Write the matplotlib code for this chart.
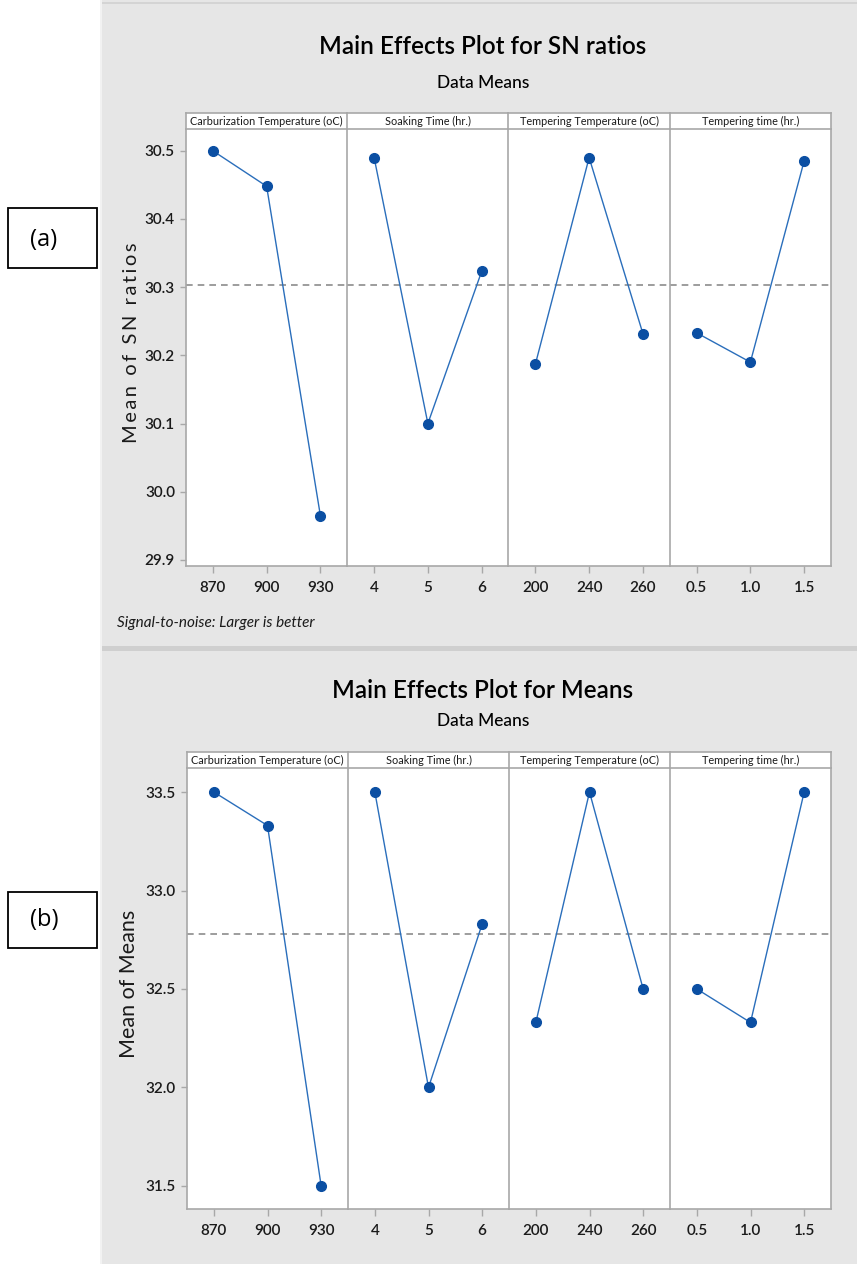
import matplotlib
matplotlib.use('Agg')
from matplotlib import pyplot as plt
from matplotlib.patches import Rectangle

plt.rcParams['font.family'] = ['Lato', 'DejaVu Sans']

factors = ['Carburization Temperature (oC)', 'Soaking Time (hr.)',
           'Tempering Temperature (oC)', 'Tempering time (hr.)']
levels = [['870', '900', '930'], ['4', '5', '6'], ['200', '240', '260'], ['0.5', '1.0', '1.5']]

sn_carb = [30.500, 30.448, 29.965]
sn_soak = [30.490, 30.100, 30.323]
sn_temp = [30.187, 30.490, 30.232]
sn_time = [30.233, 30.190, 30.485]
sn_mean = 30.303
sn_ticks = [29.9, 30.0, 30.1, 30.2, 30.3, 30.4, 30.5]

mn_carb = [33.50, 33.33, 31.50]
mn_soak = [33.50, 32.00, 32.83]
mn_temp = [32.33, 33.50, 32.50]
mn_time = [32.50, 32.33, 33.50]
mn_mean = 32.78
mn_ticks = [31.5, 32.0, 32.5, 33.0, 33.5]

W, H = 857, 1264
fig = plt.figure(figsize=(W / 100, H / 100), dpi=100)
fig.patch.set_facecolor('white')


def box(x0, y0, x1, y1, z=-5, **kw):
    # pixel coords from top-left
    r = Rectangle((x0 / W, 1 - y1 / H), (x1 - x0) / W, (y1 - y0) / H,
                  transform=fig.transFigure, zorder=z, **kw)
    fig.patches.append(r)


def ax_px(x0, y0, x1, y1):
    return fig.add_axes([x0 / W, 1 - y1 / H, (x1 - x0) / W, (y1 - y0) / H])


# gray panels
box(100, 0, 857, 646, facecolor='#e6e6e6', edgecolor='none')
box(100, 651, 857, 1264, facecolor='#e6e6e6', edgecolor='none')
box(100, 646, 857, 651, facecolor='#cfcfcf', edgecolor='none')
box(100, 2, 857, 4, facecolor='#d4d4d4', edgecolor='none')
box(100, 0, 102, 1264, facecolor='#f2f2f2', edgecolor='none')

# (a) (b) label boxes
box(8, 208, 97, 268, facecolor='white', edgecolor='black', linewidth=1.3)
fig.text(44 / W, 1 - 240 / H, '(a)', ha='center', va='center', fontsize=17,
         family=['Open Sans', 'DejaVu Sans'])
box(8, 892, 97, 948, facecolor='white', edgecolor='black', linewidth=1.3)
fig.text(44 / W, 1 - 920 / H, '(b)', ha='center', va='center', fontsize=17,
         family=['Open Sans', 'DejaVu Sans'])

line_c = '#2a6ebb'
mark_c = '#0b4fa3'
frame_c = '#a8a8a8'


def main_effects(series, mean, ticks, ylim, left, right, strip_top, top, bottom,
                 title_y, sub_y, title, ylab, ylab_x, ylab_size):
    fig.text(483 / W, 1 - title_y / H, title, ha='center', va='center', fontsize=17.5,
             fontweight='semibold')
    fig.text(483 / W, 1 - sub_y / H, 'Data Means', ha='center', va='center', fontsize=12.5,
             fontweight='medium')
    pw = (right - left) / 4
    for i in range(4):
        x0 = left + i * pw
        x1 = x0 + pw
        ax = ax_px(x0, top, x1, bottom)
        ax.plot([1, 2, 3], series[i], color=line_c, linewidth=1.0, marker='o',
                markersize=7, markerfacecolor=mark_c, markeredgecolor=mark_c)
        ax.axhline(mean, color='#8c8c8c', linestyle=(0, (4, 3)), linewidth=1.2, zorder=0)
        ax.set_xlim(0.5, 3.5)
        ax.set_ylim(*ylim)
        ax.set_xticks([1, 2, 3])
        ax.set_xticklabels(levels[i], fontweight='semibold')
        ax.set_yticks(ticks)
        ax.set_yticklabels([f'{t:.1f}' for t in ticks], fontweight='semibold')
        for s in ax.spines.values():
            s.set_color(frame_c)
            s.set_linewidth(1.2)
        ax.spines['top'].set_visible(False)
        if i < 3:
            ax.spines['right'].set_visible(False)
        ax.tick_params(axis='x', colors=frame_c, labelcolor='#1a1a1a', length=5,
                       width=1, labelsize=11, pad=6)
        ax.tick_params(axis='y', colors=frame_c, labelcolor='#1a1a1a', length=4,
                       width=1, labelsize=11, pad=4)
        if i > 0:
            ax.tick_params(axis='y', left=False, labelleft=False)
        else:
            ax.set_ylabel(ylab, fontsize=ylab_size, color='#1a1a1a', labelpad=0)
            ax.yaxis.set_label_coords((ylab_x - x0) / pw, 0.51)
        # strip
        sax = ax_px(x0, strip_top, x1, top)
        sax.set_xticks([])
        sax.set_yticks([])
        for s in sax.spines.values():
            s.set_color(frame_c)
            s.set_linewidth(1.2)
        if i < 3:
            sax.spines['right'].set_visible(False)
        sax.text(0.5, 0.45, factors[i], ha='center', va='center', fontsize=7.8,
                 color='#1a1a1a', transform=sax.transAxes)


sn_label = '\u2009'.join('Mean of SN ratios').replace('\u2009 \u2009', '  ')
main_effects([sn_carb, sn_soak, sn_temp, sn_time], sn_mean, sn_ticks, (29.891, 30.532),
             186, 831, 113, 129, 566, 47, 83,
             'Main Effects Plot for SN ratios', sn_label, 140, 14.5)
fig.text(117 / W, 1 - 623 / H, 'Signal-to-noise: Larger is better', ha='left', va='center',
         fontsize=11, style='italic', color='#1a1a1a')

main_effects([mn_carb, mn_soak, mn_temp, mn_time], mn_mean, mn_ticks, (31.383, 33.622),
             187, 831, 752, 768, 1209, 690, 721,
             'Main Effects Plot for Means', 'Mean of Means', 139, 15.5)

fig.savefig('out.png', dpi=100)
